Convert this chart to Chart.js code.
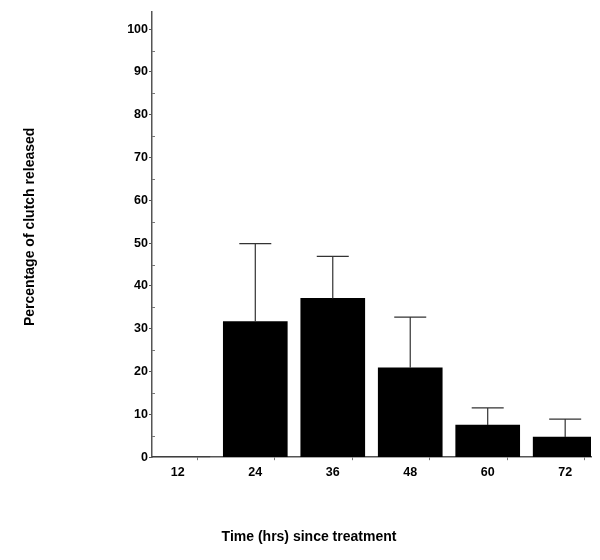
<!DOCTYPE html>
<html>
<head>
<meta charset="utf-8">
<title>Clutch release</title>
<script src="https://cdn.jsdelivr.net/npm/chart.js@4.4.1/dist/chart.umd.min.js"></script>
<style>
    html, body { margin: 0; padding: 0; background: #fff; }
    #wrap { width: 600px; height: 560px; position: relative; }
</style>
</head>
<body>
<div id="wrap"><canvas id="clutchChart"></canvas></div>
<script>
/**
 * Percentage of clutch released vs time since treatment
 */
const hours = [12, 24, 36, 48, 60, 72];
const meanPct = [0, 31.7, 37.1, 20.9, 7.5, 4.7];
const errPct = [0, 18.2, 9.8, 11.8, 4.0, 4.2];
const yTicks = [0, 10, 20, 30, 40, 50, 60, 70, 80, 90, 100];
const xBoundaryTicks = [18, 30, 42, 54, 66];

const FONT = 'Liberation Sans, Arial, Helvetica, sans-serif';

/**
 * Upward-only error bars with a cap
 */
const errorBars = {
    id: 'errorBars',
    afterDatasetsDraw(chart) {
        const meta = chart.getDatasetMeta(0);
        const y = chart.scales.y;
        const ctx = chart.ctx;
        ctx.save();
        ctx.strokeStyle = '#333';
        ctx.lineWidth = 1.2;
        meta.data.forEach((bar, i) => {
            if (!errPct[i]) return;
            const top = y.getPixelForValue(meanPct[i] + errPct[i]);
            const base = y.getPixelForValue(meanPct[i]);
            ctx.beginPath();
            ctx.moveTo(bar.x, base);
            ctx.lineTo(bar.x, top);
            ctx.moveTo(bar.x - 16, top);
            ctx.lineTo(bar.x + 16, top);
            ctx.stroke();
        });
        ctx.restore();
    }
};

/**
 * Small minor ticks on the inside of the y axis (every 5)
 */
const minorTicks = {
    id: 'minorTicks',
    afterDraw(chart) {
        const y = chart.scales.y;
        const left = chart.chartArea.left;
        const ctx = chart.ctx;
        ctx.save();
        ctx.strokeStyle = '#777';
        ctx.lineWidth = 1;
        yTicks.slice(0, -1).forEach(v => {
            const py = Math.round(y.getPixelForValue(v + 5)) + 0.5;
            ctx.beginPath();
            ctx.moveTo(left, py);
            ctx.lineTo(left + 3, py);
            ctx.stroke();
        });
        ctx.restore();
    }
};

const ctx = document.getElementById('clutchChart');

new Chart(ctx, {
    type: 'bar',
    data: {
        datasets: [{
            data: hours.map((h, i) => ({x: h, y: meanPct[i]})),
            backgroundColor: '#000',
            borderWidth: 0,
            barThickness: 64,
            clip: 0
        }]
    },
    options: {
        responsive: true,
        maintainAspectRatio: false,
        animation: false,
        layout: {
            padding: {left: 27, right: 9, top: 12, bottom: 0}
        },
        plugins: {
            legend: {display: false},
            tooltip: {enabled: false},
            title: {
                display: true,
                position: 'bottom',
                text: 'Time (hrs) since treatment',
                color: '#000',
                font: {family: FONT, size: 14, weight: 'bold'},
                padding: {top: 4, bottom: 14}
            }
        },
        scales: {
            x: {
                type: 'linear',
                offset: false,
                min: 8,
                max: 76,
                afterBuildTicks: function(scale) {
                    scale.ticks = hours.concat(xBoundaryTicks)
                        .sort((a, b) => a - b)
                        .map(v => ({value: v}));
                },
                afterFit: function(scale) {
                    scale.height = 68;
                },
                border: {display: true, color: '#555', width: 1.5},
                grid: {
                    drawOnChartArea: false,
                    tickLength: 3,
                    tickColor: function(c) {
                        return hours.includes(c.tick && c.tick.value) ? 'rgba(0,0,0,0)' : '#777';
                    }
                },
                ticks: {
                    autoSkip: false,
                    maxRotation: 0,
                    padding: 5,
                    color: '#000',
                    font: {family: FONT, size: 12.5, weight: 'bold'},
                    callback: function(value) {
                        return hours.includes(value) ? String(value) : '';
                    }
                }
            },
            y: {
                min: 0,
                max: 104,
                afterBuildTicks: function(scale) {
                    scale.ticks = yTicks.map(v => ({value: v}));
                },
                afterFit: function(scale) {
                    scale.width = 125;
                },
                border: {display: true, color: '#555', width: 1.5},
                grid: {
                    drawOnChartArea: false,
                    tickLength: 3,
                    tickColor: '#555'
                },
                title: {
                    display: true,
                    // leading spaces nudge the label up a little, like the original
                    text: '    Percentage of clutch released',
                    color: '#000',
                    font: {family: FONT, size: 14, weight: 'bold'},
                    padding: {top: -5, bottom: 0}
                },
                ticks: {
                    padding: 1,
                    color: '#000',
                    font: {family: FONT, size: 12.5, weight: 'bold'}
                }
            }
        }
    },
    plugins: [errorBars, minorTicks]
});
</script>
</body>
</html>
